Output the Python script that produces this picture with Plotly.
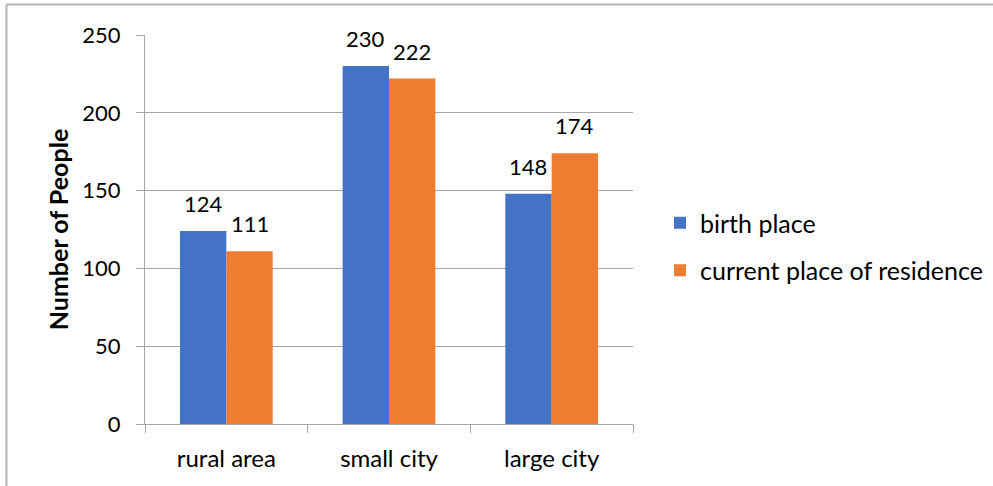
import plotly.graph_objects as go

categories = ["rural area", "small city", "large city"]
birth_place = [124, 230, 148]
current_residence = [111, 222, 174]
series_names = ["birth place", "current place of residence"]
y_ticks = [0, 50, 100, 150, 200, 250]

W, H = 993, 486
L, R, T, B = 145, 633, 35, 424  # plot area in pixels
FONT = "Lato"
BLUE = "#4472C4"
ORANGE = "#ED7D31"
GRID = "#a6a6a6"

fig = go.Figure()
for name, vals, col, grp in [(series_names[0], birth_place, BLUE, "a"),
                             (series_names[1], current_residence, ORANGE, "b")]:
    fig.add_trace(go.Bar(x=categories, y=vals, name=name, marker_color=col,
                         marker_line_width=0, legendgroup=grp))

# value labels above each bar
bar_px = (R - L) / len(categories) * 0.57 / 2
for vals, shift in [(birth_place, -bar_px / 2), (current_residence, bar_px / 2)]:
    for c, v in zip(categories, vals):
        fig.add_annotation(x=c, y=v, text=str(v), showarrow=False, xref="x", yref="y",
                           xshift=shift, yanchor="bottom", yshift=12,
                           font=dict(family=FONT, size=22, color="#000"))

# outer frame (top and left edges)
def px_x(p):
    return (p - L) / (R - L)

def px_y(p):
    return (B - p) / (B - T)

fig.add_shape(type="line", xref="paper", yref="paper", x0=px_x(6.5), x1=px_x(1000),
              y0=px_y(4.5), y1=px_y(4.5), line=dict(color="#b3b3b3", width=2))
fig.add_shape(type="line", xref="paper", yref="paper", x0=px_x(6.5), x1=px_x(6.5),
              y0=px_y(4.5), y1=px_y(500), line=dict(color="#b3b3b3", width=2))

fig.update_layout(
    width=W, height=H,
    margin=dict(l=L, r=W - R, t=T, b=H - B, pad=0, autoexpand=False),
    paper_bgcolor="white", plot_bgcolor="white",
    barmode="group", bargap=0.43, bargroupgap=0,
    font=dict(family=FONT, size=20, color="#000"),
    legend=dict(x=px_x(660), y=px_y(200), xanchor="left", yanchor="top",
                font=dict(family=FONT, size=25), tracegroupgap=12,
                bgcolor="rgba(0,0,0,0)"),
    showlegend=True,
)
fig.update_xaxes(showline=True, linecolor=GRID, linewidth=1, ticks="outside",
                 tickson="boundaries", ticklen=8, tickcolor=GRID,
                 ticklabelstandoff=13, showgrid=False,
                 tickfont=dict(family=FONT, size=24))
fig.update_yaxes(range=[0, 250], tickvals=y_ticks, showgrid=True, gridcolor=GRID,
                 gridwidth=1, showline=True, linecolor=GRID, linewidth=1,
                 ticks="outside", ticklen=8, tickcolor=GRID, ticklabelstandoff=11,
                 zeroline=False, tickfont=dict(family=FONT, size=22),
                 title=dict(text="<b>Number of People</b>", standoff=6,
                            font=dict(family=FONT, size=25)))

fig.write_html("out.html")
